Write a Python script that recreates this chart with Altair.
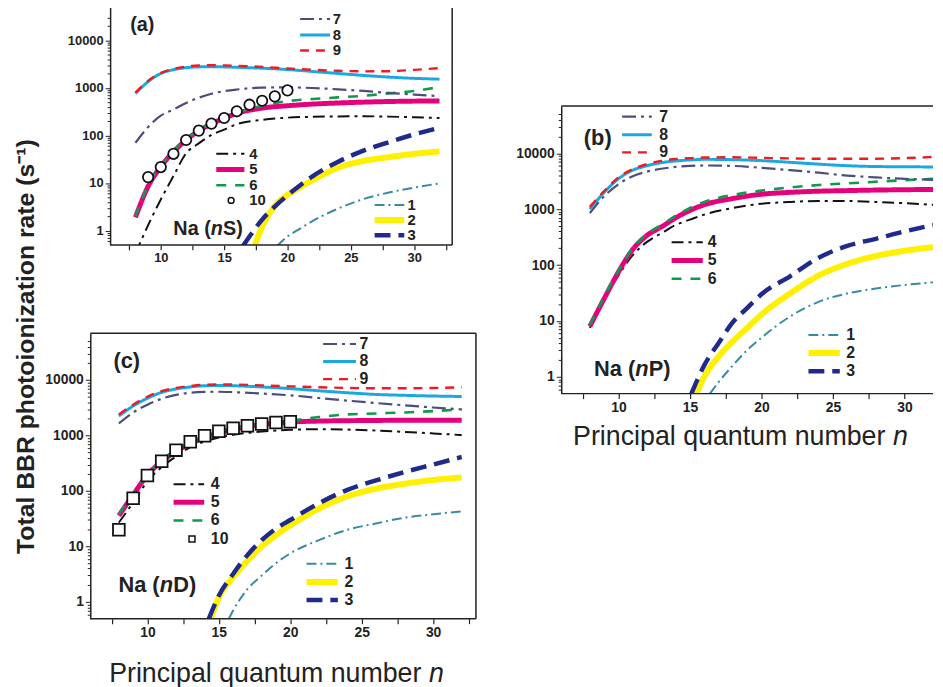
import altair as alt
import pandas as pd

FONT = "Liberation Sans, Arial, Helvetica, sans-serif"
INK = "#222222"

# ---------------- series styles ----------------
SERIES = ["1", "2", "3", "4", "5", "6", "7", "8", "9"]
COLORS = ["#3a8ba0", "#fff000", "#1f2a8a", "#111111", "#e5007e", "#0f9b4b", "#4d4c7d", "#1aa8e2", "#ed1c24"]
DASHES = [[10, 4, 2, 4], [1, 0], [16, 8], [12, 5, 3, 5], [1, 0], [10, 9], [14, 5, 3, 5], [1, 0], [9, 7]]
WIDTHS = [2.0, 6.0, 4.5, 2.0, 5.0, 2.6, 2.2, 3.0, 2.4]

N_FULL = [8, 9, 10, 11, 12, 13, 14, 15, 16, 18, 20, 22, 24, 26, 28, 30, 32]

# ---------------- panel (a): Na(nS) ----------------
A1_N = [19.2, 20, 21, 22, 24, 26, 28, 30, 32]
A1_V = [0.48, 0.75, 1.1, 1.6, 2.9, 4.6, 6.3, 8.0, 9.8]
A2_N = [17.4, 18, 19, 20, 21, 22, 24, 26, 28, 30, 32]
A2_V = [0.48, 1.2, 3.3, 5.6, 8.2, 11.5, 21, 29, 35, 41, 46]
A3_N = [16.5, 17, 18, 19, 20, 21, 22, 24, 26, 28, 30, 32]
A3_V = [0.48, 0.75, 1.7, 3.2, 5.5, 9, 14, 28, 48, 72, 105, 145]
A4_V = [0.33, 1.3, 4.5, 14, 42, 68, 102, 132, 172, 212, 236, 246, 250, 252, 248, 240, 232]
A5_V = [1.9, 8.5, 22, 45, 80, 125, 175, 230, 290, 375, 420, 455, 480, 500, 515, 525, 530]
A6_V = [2.0, 9, 23, 47, 83, 128, 178, 232, 295, 420, 525, 580, 630, 680, 760, 860, 1040]
A7_V = [70, 150, 260, 350, 480, 620, 750, 850, 920, 1010, 1020, 990, 930, 860, 780, 720, 670]
A8_V = [760, 1350, 2000, 2400, 2650, 2750, 2780, 2750, 2700, 2580, 2420, 2200, 2000, 1820, 1680, 1580, 1520]
A9_V = [790, 1400, 2050, 2500, 2800, 2950, 2980, 2960, 2900, 2750, 2550, 2400, 2280, 2220, 2230, 2380, 2600]
A10_N = [9, 10, 11, 12, 13, 14, 15, 16, 17, 18, 19, 20]
A10_V = [13.3, 21.6, 41, 80, 126, 177, 232, 321, 442, 535, 661, 884]

# ---------------- panel (b): Na(nP) ----------------
B1_N = [16.4, 17, 18, 19, 20, 22, 24, 26, 28, 30, 32]
B1_V = [0.5, 0.8, 1.6, 3.0, 5.0, 12, 22, 31, 38, 44, 49]
B2_N = [15.45, 16, 17, 18, 19, 20, 22, 24, 26, 28, 30, 32]
B2_V = [0.5, 1.0, 2.3, 4.3, 7.5, 13, 31, 65, 105, 145, 180, 210]
B3_N = [15.1, 16, 17, 18, 19, 20, 22, 24, 26, 28, 30, 32]
B3_V = [0.5, 1.6, 4.0, 9.5, 17, 30, 63, 135, 220, 295, 400, 520]
B4_V = [7.5, 24, 65, 150, 260, 370, 520, 650, 800, 1050, 1250, 1350, 1400, 1400, 1350, 1280, 1200]
B5_V = [8, 25, 75, 190, 340, 480, 700, 950, 1200, 1550, 1850, 2000, 2100, 2150, 2200, 2230, 2260]
B6_V = [8.5, 27, 80, 200, 360, 520, 760, 1050, 1350, 1800, 2150, 2450, 2700, 2900, 3100, 3300, 3500]
B7_V = [850, 1700, 2800, 3900, 4700, 5300, 5700, 5950, 6050, 5950, 5500, 5000, 4500, 4000, 3700, 3500, 3350]
B8_V = [1000, 2000, 3500, 5000, 6000, 6800, 7300, 7600, 7800, 7700, 7400, 6900, 6400, 6000, 5800, 5750, 5700]
B9_V = [1100, 2100, 3700, 5200, 6400, 7300, 7900, 8200, 8400, 8500, 8300, 8100, 8000, 8000, 8000, 8200, 8600]

# ---------------- panel (c): Na(nD) ----------------
C1_N = [15.7, 16, 17, 18, 19, 20, 22, 24, 26, 28, 30, 32]
C1_V = [0.5, 0.7, 1.7, 3.0, 5, 7.5, 13, 20, 26, 33, 38, 43]
C2_N = [14.44, 15, 16, 17, 18, 19, 20, 22, 24, 26, 28, 30, 32]
C2_V = [0.5, 1.2, 2.8, 5.5, 10, 16, 24, 48, 80, 110, 135, 158, 175]
C3_N = [14.3, 15, 16, 17, 18, 19, 20, 22, 24, 26, 28, 30, 32]
C3_V = [0.5, 1.3, 3.2, 7, 13, 21, 30, 60, 105, 155, 220, 300, 410]
C4_V = [27, 62, 150, 270, 420, 620, 780, 920, 1030, 1180, 1270, 1300, 1280, 1230, 1160, 1090, 1020]
C5_V = [36, 85, 195, 340, 520, 720, 920, 1120, 1300, 1580, 1750, 1820, 1850, 1870, 1880, 1880, 1880]
C6_V = [38, 90, 200, 360, 545, 750, 960, 1170, 1350, 1620, 1850, 2150, 2400, 2500, 2600, 2750, 2950]
C7_V = [1650, 2600, 3600, 4600, 5400, 5900, 6100, 6150, 6050, 5700, 5300, 4750, 4250, 3850, 3500, 3200, 2950]
C8_V = [2250, 3400, 4700, 6000, 6900, 7500, 7900, 8000, 7900, 7500, 7000, 6400, 5900, 5500, 5300, 5150, 5050]
C9_V = [2400, 3600, 5000, 6300, 7200, 7800, 8200, 8300, 8300, 8000, 7700, 7400, 7200, 7100, 7100, 7200, 7400]
C10_N = [8, 9, 10, 11, 12, 13, 14, 15, 16, 17, 18, 19, 20]
C10_V = [20, 74, 190, 345, 545, 770, 990, 1190, 1350, 1500, 1610, 1720, 1770]

# ---------------- in-plot legends (data coordinates) ----------------
LEG_SERIES = ["7", "8", "9", "4", "5", "6", "1", "2", "3"]
A_LEG_N1 = [21.0] * 3 + [14.38] * 3 + [26.88] * 3
A_LEG_N2 = [23.36] * 3 + [16.6] * 3 + [29.22] * 3
A_LEG_TN = [23.57] * 3 + [16.98] * 3 + [29.48] * 3
A_LEG_V = [27900, 12900, 6090, 41, 19.2, 9.0, 3.45, 1.67, 0.80]
A_LEG10 = [15.55, 16.98, 4.3]

B_LEG_N1 = [10.26] * 3 + [13.72] * 3 + [23.29] * 3
B_LEG_N2 = [12.33] * 3 + [15.9] * 3 + [25.48] * 3
B_LEG_TN = [12.86] * 3 + [16.25] * 3 + [25.94] * 3
B_LEG_V = [45200, 21400, 10400, 256, 121, 57, 5.6, 2.67, 1.26]

C_LEG_N1 = [22.3] * 3 + [11.83] * 3 + [21.14] * 3
C_LEG_N2 = [24.6] * 3 + [13.97] * 3 + [23.33] * 3
C_LEG_TN = [24.84] * 3 + [14.44] * 3 + [23.8] * 3
C_LEG_V = [44600, 21600, 10400, 132, 62.5, 29.5, 4.87, 2.3, 1.09]
C_LEG10 = [13.12, 14.44, 13.6]

PANEL_LABELS = {"a": ("(a)", 7.58, 20600), "b": ("(b)", 7.58, 18700), "c": ("(c)", 7.62, 21800)}
NA_LABELS = {"a": (10.99, 1.06, "S)"), "b": (8.29, 1.39, "P)"), "c": (7.97, 1.98, "D)")}

X_TITLE = "Principal quantum number"
X_TITLE_VAR = "n"
Y_TITLE = "Total BBR photoionization rate (s\u207b\u00b9)"

X_TICKS = [7.5, 10, 12.5, 15, 17.5, 20, 22.5, 25, 27.5, 30, 32.5]
DECADE_TEST = "indexof([1,10,100,1000,10000], datum.value) >= 0"

# left extent reserved for each panel's y axis (px); panel (a) is inset instead
LEFT_EXT = {"a": 0, "b": 50, "c": 51}
INSET = {"a": 20, "b": 0, "c": 0}


def minor_ticks(hi):
    out = []
    for d in [0.1, 1, 10, 100, 1000, 10000]:
        for m in range(1, 10):
            v = round(m * d, 6)
            if 0.55 < v <= hi:
                out.append(v)
    return out


def long_df(pairs):
    rows = []
    for s, (ns, vs) in pairs.items():
        for n, v in zip(ns, vs):
            rows.append({"series": s, "n": n, "v": v})
    return pd.DataFrame(rows)


def frame_rule(x, x2, y, y2=None):
    enc = dict(x=alt.value(x), y=alt.value(y))
    if x2 is not None:
        enc["x2"] = alt.value(x2)
    if y2 is not None:
        enc["y2"] = alt.value(y2)
    return alt.Chart(pd.DataFrame({"z": [0]})).mark_rule(color=INK, strokeWidth=1.5).encode(**enc)


def build_panel(key, lines, w, h, xdom, ydom, yhi, tick_fs, leg_fs, lab_fs,
                leg_n1, leg_n2, leg_tn, leg_v, markers=None, shape="circle",
                msize=80, leg10=None, leg10_size=30, xtitle=None, open_right=False):
    inset = INSET[key]
    ppu = w / (xdom[1] - xdom[0])
    full_dom = [xdom[0] - inset / ppu, xdom[1]]
    W = w + inset
    xt = [t for t in X_TICKS if xdom[0] <= t <= xdom[1]]
    X = alt.X("n:Q", scale=alt.Scale(domain=full_dom, nice=False, zero=False),
              axis=alt.Axis(values=xt, title=None, grid=False, domain=False,
                            labelExpr="datum.value % 5 === 0 ? datum.label : ''",
                            labelFont=FONT, labelFontWeight="bold", labelFontSize=tick_fs,
                            labelColor=INK, tickColor=INK,
                            tickWidth=1.2, tickSize=5, labelPadding=2, labelOverlap=False,
                            labelFlush=False))
    yaxis = dict(values=minor_ticks(yhi), title=None, grid=False,
                 labelExpr=DECADE_TEST + " ? format(datum.value, 'd') : ''",
                 labelFont=FONT, labelFontWeight="bold", labelFontSize=tick_fs,
                 labelColor=INK, tickColor=INK, domainColor=INK, domainWidth=1.5,
                 tickWidth=1.0,
                 tickSize={"condition": {"test": DECADE_TEST, "value": 5}, "value": 3},
                 labelPadding=2, labelOverlap=False, labelFlush=False)
    if inset:
        yaxis["offset"] = -inset
    if LEFT_EXT[key]:
        yaxis["minExtent"] = LEFT_EXT[key]
    Y = alt.Y("v:Q", scale=alt.Scale(type="log", domain=ydom, nice=False), axis=alt.Axis(**yaxis))

    layers = []
    if LEFT_EXT[key]:
        # invisible anchor reserving the left extent of this panel
        layers.append(alt.Chart(pd.DataFrame({"z": [0]})).mark_rule(opacity=0, strokeWidth=1).encode(
            x=alt.value(-LEFT_EXT[key]), x2=alt.value(-LEFT_EXT[key] + 2), y=alt.value(h / 2)))

    leg = pd.DataFrame({"series": LEG_SERIES, "n": leg_n1, "n2": leg_n2, "v": leg_v})
    for i, s in enumerate(SERIES):
        style = dict(color=COLORS[i], strokeDash=DASHES[i], strokeWidth=WIDTHS[i])
        layers.append(alt.Chart(lines).transform_filter(alt.datum.series == s)
                      .mark_line(clip=True, interpolate="monotone", **style)
                      .encode(x=X, y=Y))
        layers.append(alt.Chart(leg).transform_filter(alt.datum.series == s)
                      .mark_rule(**style).encode(x=X, x2="n2:Q", y=Y))

    legt = pd.DataFrame({"label": LEG_SERIES, "n": leg_tn, "v": leg_v})
    if leg10 is not None:
        legt = pd.concat([legt, pd.DataFrame({"label": ["10"], "n": [leg10[1]], "v": [leg10[2]]})])
    layers.append(alt.Chart(legt).mark_text(align="left", baseline="middle", font=FONT,
                                            fontWeight="bold", fontSize=leg_fs, color=INK).encode(
        x=X, y=Y, text="label:N"))

    if markers is not None:
        layers.append(alt.Chart(markers).mark_point(shape=shape, filled=True, fill="white",
                                                    stroke="#111111", strokeWidth=1.8,
                                                    size=msize, opacity=1).encode(x=X, y=Y))
        m10 = pd.DataFrame({"n": [leg10[0]], "v": [leg10[2]]})
        layers.append(alt.Chart(m10).mark_point(shape=shape, filled=True, fill="white",
                                                stroke="#111111", strokeWidth=1.5,
                                                size=leg10_size, opacity=1).encode(x=X, y=Y))

    t, tn, tv = PANEL_LABELS[key]
    layers.append(alt.Chart(pd.DataFrame({"t": [t], "n": [tn], "v": [tv]})).mark_text(
        align="left", baseline="middle", font=FONT, fontWeight="bold", fontSize=lab_fs,
        color=INK).encode(x=X, y=Y, text="t:N"))

    nn, nv, suf = NA_LABELS[key]
    nadf = pd.DataFrame({"n": [nn], "v": [nv], "p1": ["Na ("], "p2": ["n"], "p3": [suf]})
    w1 = 1.889 * lab_fs
    w2 = 0.62 * lab_fs
    layers.append(alt.Chart(nadf).mark_text(align="left", baseline="middle", font=FONT,
                                            fontWeight="bold", fontSize=lab_fs, color=INK).encode(
        x=X, y=Y, text="p1:N"))
    layers.append(alt.Chart(nadf).mark_text(align="left", baseline="middle", font=FONT,
                                            fontWeight="bold", fontStyle="italic", fontSize=lab_fs,
                                            color=INK, dx=w1).encode(x=X, y=Y, text="p2:N"))
    layers.append(alt.Chart(nadf).mark_text(align="left", baseline="middle", font=FONT,
                                            fontWeight="bold", fontSize=lab_fs, color=INK,
                                            dx=w1 + w2).encode(x=X, y=Y, text="p3:N"))

    if xtitle is not None:
        x0, y0, fs = xtitle
        tdf = pd.DataFrame({"a": [X_TITLE], "b": [X_TITLE_VAR]})
        layers.append(alt.Chart(tdf).mark_text(align="left", baseline="alphabetic", font=FONT,
                                               fontSize=fs, color=INK).encode(
            x=alt.value(inset + x0), y=alt.value(y0), text="a:N"))
        layers.append(alt.Chart(tdf).mark_text(align="left", baseline="alphabetic", font=FONT,
                                               fontStyle="italic", fontSize=fs, color=INK).encode(
            x=alt.value(inset + x0 + 11.949 * fs), y=alt.value(y0), text="b:N"))

    # frame: top and bottom edges (left edge is the y-axis line)
    layers.append(frame_rule(inset, W, 0))
    layers.append(frame_rule(inset, W, h))
    if not open_right:
        layers.append(frame_rule(W, None, 0, h))

    return alt.layer(*layers).properties(width=W, height=h,
                                         view=alt.ViewBackground(stroke="transparent"))


dfa = long_df({"1": (A1_N, A1_V), "2": (A2_N, A2_V), "3": (A3_N, A3_V), "4": (N_FULL, A4_V),
               "5": (N_FULL, A5_V), "6": (N_FULL, A6_V), "7": (N_FULL, A7_V), "8": (N_FULL, A8_V),
               "9": (N_FULL, A9_V)})
dfb = long_df({"1": (B1_N, B1_V), "2": (B2_N, B2_V), "3": (B3_N, B3_V), "4": (N_FULL, B4_V),
               "5": (N_FULL, B5_V), "6": (N_FULL, B6_V), "7": (N_FULL, B7_V), "8": (N_FULL, B8_V),
               "9": (N_FULL, B9_V)})
dfc = long_df({"1": (C1_N, C1_V), "2": (C2_N, C2_V), "3": (C3_N, C3_V), "4": (N_FULL, C4_V),
               "5": (N_FULL, C5_V), "6": (N_FULL, C6_V), "7": (N_FULL, C7_V), "8": (N_FULL, C8_V),
               "9": (N_FULL, C9_V)})
mka = pd.DataFrame({"n": A10_N, "v": A10_V})
mkc = pd.DataFrame({"n": C10_N, "v": C10_V})

panel_a = build_panel("a", dfa, 345, 240, [6, 33], [0.5, 50000], 30000, 13, 15, 20,
                      A_LEG_N1, A_LEG_N2, A_LEG_TN, A_LEG_V, markers=mka, shape="circle",
                      msize=110, leg10=A_LEG10, leg10_size=35)
panel_c = build_panel("c", dfc, 389, 288, [6, 33], [0.5, 70000], 50000, 14, 16, 22,
                      C_LEG_N1, C_LEG_N2, C_LEG_TN, C_LEG_V, markers=mkc, shape="square",
                      msize=140, leg10=C_LEG10, leg10_size=36, xtitle=(19, 352, 27))
panel_b = build_panel("b", dfb, 375, 290, [6, 32], [0.5, 70000], 50000, 14, 16, 22,
                      B_LEG_N1, B_LEG_N2, B_LEG_TN, B_LEG_V, xtitle=(12, 341.7, 27),
                      open_right=True)

spacer = alt.Chart(pd.DataFrame({"z": [0]})).mark_point(opacity=0).encode(
    x=alt.value(10), y=alt.value(40)).properties(width=20, height=77,
                                                 view=alt.ViewBackground(stroke="transparent"))

left = alt.vconcat(panel_a, panel_c, spacing=66,
                   title=alt.TitleParams(text=Y_TITLE, orient="left", anchor="middle", fontSize=25,
                                         fontWeight="bold", font=FONT, color=INK, offset=0))
right = alt.vconcat(spacer, panel_b, spacing=20)

chart = alt.hconcat(left, right, spacing=33).properties(
    padding={"left": 6, "top": -6, "right": 0, "bottom": 0}
).configure_view(stroke=INK, strokeWidth=1.5)

chart.save("out.html", embed_options={"renderer": "svg", "actions": False})
